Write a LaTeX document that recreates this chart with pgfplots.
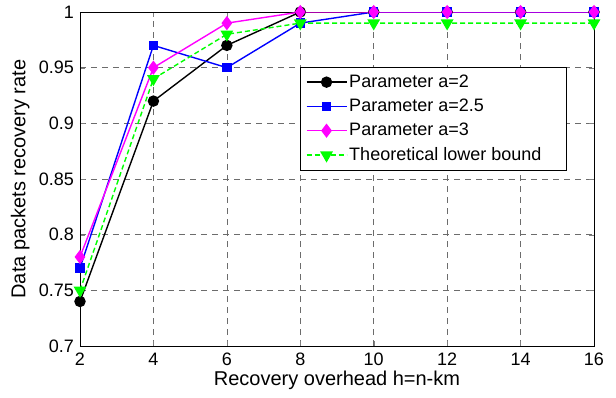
\documentclass[border=0pt]{standalone}
\usepackage{pgfplots}
\pgfplotsset{compat=1.18}
\usepackage{fontspec}
\setmainfont{Liberation Sans}
\definecolor{mBlue}{RGB}{0,0,255}
\definecolor{mMag}{RGB}{255,0,255}
\definecolor{mGreen}{RGB}{0,255,0}
\begin{document}
\begin{tikzpicture}
\fontsize{18}{21}\selectfont
\path[use as bounding box] (-80pt,-51pt) rectangle (536pt,346pt);
\begin{axis}[
  scale only axis, width=514pt, height=334pt,
  at={(0,0)}, anchor=south west,
  font=\fontsize{18}{21}\selectfont,
  xmin=2, xmax=16, ymin=0.7, ymax=1,
  xtick={2,4,...,16}, ytick={0.7,0.75,...,1.0},
  yticklabels={0.7,0.75,0.8,0.85,0.9,0.95,1},
  /pgf/number format/assume math mode=true,
  every tick label/.append style={font=\fontsize{18}{21}\selectfont},
  every axis label/.append style={font=\fontsize{20}{23}\selectfont},
  xlabel={Recovery overhead h=n-km},
  ylabel={Data packets recovery rate},
  xticklabel style={yshift=-1pt},
  xlabel style={yshift=7pt},
  ylabel style={yshift=-3pt},
  grid=major,
  major grid style={gray!85!black, line width=0.7pt, dash pattern=on 6pt off 5pt},
  tick align=inside, tick pos=both,
  major tick length=5pt,
  axis line style={line width=0.9pt},
  legend style={at={(0.947,0.835)}, anchor=north east, draw=black, line width=0.8pt,
     font=\fontsize{18}{21}\selectfont, row sep=5pt, inner xsep=5pt, inner ysep=5pt},
  legend cell align=left,
  legend image code/.code={\draw[mark repeat=2,mark phase=2] plot coordinates {(0pt,0pt)(20pt,0pt)(40pt,0pt)};},
  every axis plot/.append style={line width=1.4pt},
]
\addplot[black, mark=*, mark size=5pt] coordinates {(2,0.74)(4,0.92)(6,0.97)(8,1)(10,1)(12,1)(14,1)(16,1)};
\addlegendentry{Parameter a=2}
\addplot[mBlue, mark=square*, mark size=4pt] coordinates {(2,0.77)(4,0.97)(6,0.95)(8,0.99)(10,1)(12,1)(14,1)(16,1)};
\addlegendentry{Parameter a=2.5}
\addplot[mMag, mark=diamond*, mark size=6pt] coordinates {(2,0.78)(4,0.95)(6,0.99)(8,1)(10,1)(12,1)(14,1)(16,1)};
\addlegendentry{Parameter a=3}
\addplot[mGreen, dash pattern=on 5pt off 3pt, mark=triangle*, mark size=6pt, mark options={solid, rotate=180}] coordinates {(2,0.75)(4,0.94)(6,0.98)(8,0.99)(10,0.99)(12,0.99)(14,0.99)(16,0.99)};
\addlegendentry{Theoretical lower bound\hspace*{18pt}}
\end{axis}
\end{tikzpicture}
\end{document}
